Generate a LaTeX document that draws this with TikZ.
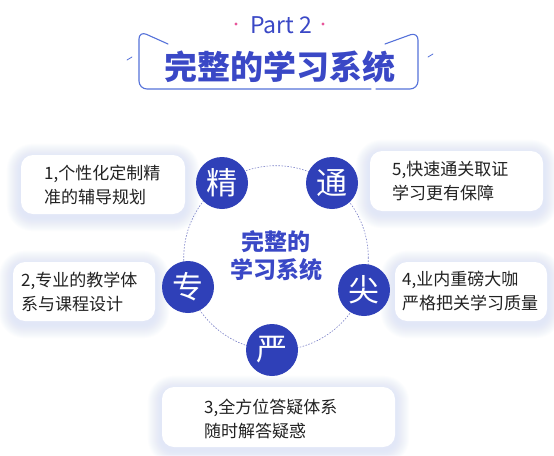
\documentclass[tikz,border=0pt]{standalone}
\usepackage{fontspec}
\newfontfamily\cjk{Noto Sans CJK SC}
\usetikzlibrary{calc}
\pgfdeclarelayer{background}
\pgfdeclarelayer{bottom}
\pgfsetlayers{bottom,background,main}
\definecolor{navy}{HTML}{2F40B8}
\definecolor{titleblue}{HTML}{3A48C6}
\definecolor{framec}{HTML}{5672DA}
\definecolor{pinkdot}{HTML}{E8559A}
\definecolor{glowc}{HTML}{D2DAF7}
\definecolor{txt}{HTML}{222222}
\definecolor{ringc}{HTML}{7A80C8}
\tikzset{
  infobox/.style={draw=none, fill=white, rounded corners=12pt, inner sep=0pt},
  infotext/.style={anchor=west, align=left, text=txt, font=\cjk\fontsize{17}{24}\selectfont, inner sep=0pt},
  badge/.style={circle, fill=navy, text=white, minimum size=52pt, inner sep=0pt, font=\cjk\fontsize{31}{32}\selectfont},
  ring/.style={circle, draw=ringc, line width=0.6pt, dash pattern=on 1.5pt off 1.5pt, minimum size=184.6pt, inner sep=0pt},
  framel/.style={draw=framec, line width=1.1pt, line cap=round, line join=round},
}
\newcommand\myglow[1]{%
  \foreach \k in {1,...,14}{%
    \fill[glowc, opacity=0.055, rounded corners=12pt+\k pt]
      ($(#1.south west)+(-\k pt,-\k pt-3pt)$) rectangle ($(#1.north east)+(\k pt,\k pt-3pt)$);}}
\begin{document}
\begin{tikzpicture}[x=1pt,y=-1pt]
\useasboundingbox (0,0) rectangle (554,455);
\begin{pgfonlayer}{bottom}
\fill[white] (0,0) rectangle (554,455);
\end{pgfonlayer}
% title
\node[inner sep=0pt, text=titleblue, font=\cjk\fontsize{23}{24}\selectfont] (part) at (281,25) {Part 2};
\fill[pinkdot] (236,24) circle (1.6);
\fill[pinkdot] (323,24) circle (1.6);
\node[inner sep=0pt, text=titleblue, font=\cjk\bfseries\fontsize{33}{34}\selectfont] (title) at (280,67) {完整的学习系统};
\draw[framel, rounded corners=8pt] (168,44) -- (139,31) -- (139,89) -- (371,89);
\draw[framel, rounded corners=8pt] (376,89) -- (418,89) -- (418,32) -- (385,44);
\draw[framel, line width=0.8pt] (127,60) -- (132,57);
\draw[framel, line width=0.8pt] (428,57) -- (433,54);
% ring
\node[ring] (ring) at (276,258) {};
\node[inner sep=0pt, align=center, text=titleblue, font=\cjk\bfseries\fontsize{23}{28}\selectfont] (center) at (276,256) {完整的\\学习系统};
% badges
\node[badge] (jing) at (222,183) {精};
\node[badge] (tong) at (332,183) {通};
\node[badge] (zhuan) at (188,287) {专};
\node[badge] (jian) at (364,290) {尖};
\node[badge] (yan) at (272,350) {严};
% boxes
\node[infobox, minimum width=164pt, minimum height=59pt] (b1) at (103,184.5) {};
\node[infobox, minimum width=173pt, minimum height=60pt] (b5) at (456.5,181) {};
\node[infobox, minimum width=142pt, minimum height=59pt] (b2) at (84,291.5) {};
\node[infobox, minimum width=152pt, minimum height=59pt] (b4) at (471,291.5) {};
\node[infobox, minimum width=233pt, minimum height=60pt] (b3) at (278.5,417) {};
\begin{pgfonlayer}{background}
\myglow{b1}\myglow{b5}\myglow{b2}\myglow{b4}\myglow{b3}
\end{pgfonlayer}
\node[infotext] (t1) at (44,185) {1,个性化定制精\\准的辅导规划};
\node[infotext] (t5) at (392,181.5) {5,快速通关取证\\学习更有保障};
\node[infotext] (t2) at (21,291.5) {2,专业的教学体\\系与课程设计};
\node[infotext] (t4) at (402,291) {4,业内重磅大咖\\严格把关学习质量};
\node[infotext] (t3) at (204,419) {3,全方位答疑体系\\随时解答疑惑};
\end{tikzpicture}
\end{document}
